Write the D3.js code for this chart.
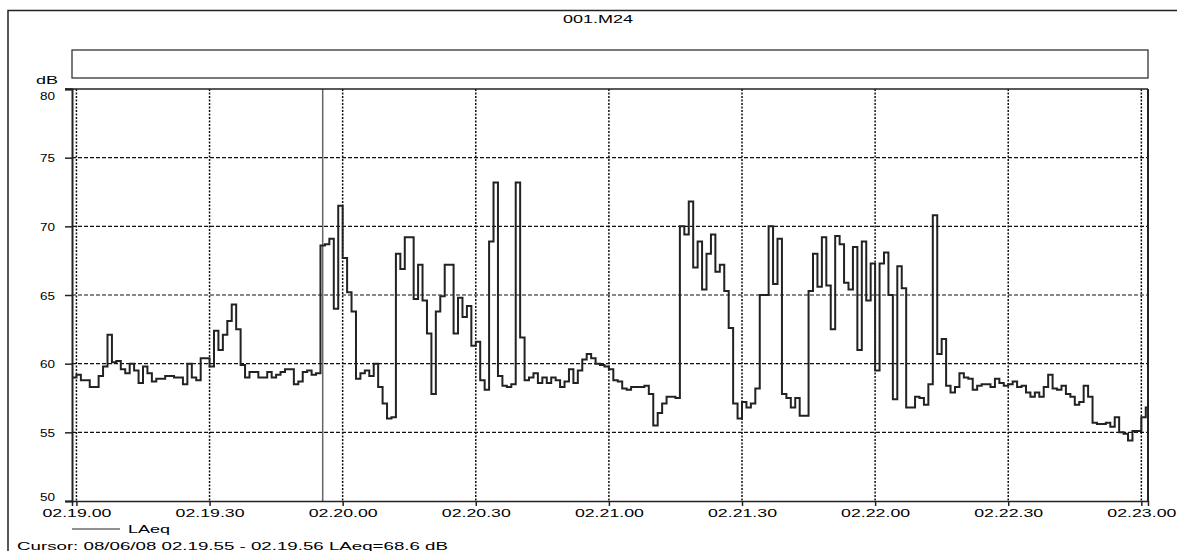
<!DOCTYPE html>
<html>
<head>
<meta charset="utf-8">
<script src="https://cdn.jsdelivr.net/npm/d3@7"></script>
<style>
  body { margin: 0; background: #fff; }
  text { font-family: "Liberation Sans", Arial, sans-serif; fill: #000; }
</style>
</head>
<body>
<svg id="chart" width="1177" height="551"></svg>
<script>
// LAeq, 1 s values starting at 02.18.59
var startTime = new Date(2008, 5, 8, 2, 18, 59);
var endTime = new Date(2008, 5, 8, 2, 23, 1, 500);
var laeq = [
  59.0,
  59.2, 58.8, 58.8, 58.3, 58.3, 59.1, 59.8, 62.1, 60.1, 60.2,
  59.6, 59.3, 60.0, 59.5, 58.6, 59.8, 59.3, 58.7, 58.9, 58.9,
  59.1, 59.1, 59.0, 59.0, 58.5, 60.0, 59.0, 58.8, 60.4, 60.4,
  59.8, 62.4, 61.0, 62.1, 63.1, 64.3, 62.5, 59.9, 59.0, 59.4,
  59.4, 59.0, 59.0, 59.4, 59.0, 59.2, 59.4, 59.6, 59.6, 58.5,
  58.7, 59.4, 59.5, 59.2, 59.3, 68.6, 68.7, 69.1, 64.0, 71.5,
  67.7, 65.2, 63.8, 58.9, 59.3, 59.5, 59.1, 60.0, 58.3, 57.1,
  56.0, 56.1, 68.0, 66.9, 69.2, 69.2, 64.7, 67.2, 64.6, 62.2,
  57.8, 63.8, 64.9, 67.2, 67.2, 62.2, 64.8, 63.4, 64.2, 61.3,
  61.6, 58.8, 58.1, 68.9, 73.2, 59.1, 58.4, 58.3, 58.5, 73.2,
  61.9, 58.8, 59.0, 59.3, 58.6, 59.0, 58.6, 59.0, 58.8, 58.3,
  58.7, 59.6, 58.6, 59.5, 60.3, 60.7, 60.4, 60.0, 59.9, 59.8,
  59.6, 58.8, 58.7, 58.2, 58.1, 58.3, 58.3, 58.3, 58.4, 57.8,
  55.5, 56.4, 57.1, 57.6, 57.6, 57.5, 70.0, 69.4, 71.8, 67.0,
  68.9, 65.4, 68.0, 69.4, 66.7, 67.2, 65.3, 62.6, 57.1, 56.0,
  57.2, 56.8, 57.1, 58.2, 65.0, 65.0, 70.0, 65.8, 69.1, 57.8,
  57.5, 56.8, 57.5, 56.2, 56.2, 65.3, 68.0, 65.6, 69.2, 65.7,
  62.5, 69.3, 68.7, 65.9, 65.4, 68.5, 61.0, 68.9, 64.6, 67.3,
  59.5, 67.3, 68.1, 65.0, 57.4, 67.1, 65.5, 56.8, 56.8, 57.6,
  57.5, 57.0, 58.5, 70.8, 60.7, 61.8, 58.4, 57.9, 58.3, 59.3,
  59.0, 58.9, 58.1, 58.4, 58.5, 58.5, 58.3, 58.9, 58.6, 58.4,
  58.5, 58.7, 58.3, 58.4, 57.9, 57.6, 57.9, 57.6, 58.3, 59.2,
  58.2, 58.1, 58.4, 57.8, 57.6, 57.0, 57.2, 58.4, 57.6, 55.7,
  55.6, 55.6, 55.7, 55.4, 56.1, 55.0, 54.9, 54.4, 55.1, 55.1,
  56.1, 56.8
];
var yTicks = [50, 55, 60, 65, 70, 75, 80];
var cursorFrom = new Date(2008, 5, 8, 2, 19, 55);
var cursorTo = new Date(2008, 5, 8, 2, 19, 56);
var cursorText = "Cursor: 08/06/08 02.19.55 - 02.19.56  LAeq=68.6 dB";
var title = "001.M24";

var plotLeft = 72, plotRight = 1148, plotTop = 89, plotBottom = 501;

var svg = d3.select("#chart");

var x = d3.scaleTime().domain([startTime, endTime]).range([plotLeft, plotRight]);
var y = d3.scaleLinear().domain([50, 80]).range([plotBottom, plotTop]);
var fmt = d3.timeFormat("%H.%M.%S");

var data = laeq.map(function (v, i) {
  return { t: d3.timeSecond.offset(startTime, i), v: v };
});
data.push({ t: d3.timeSecond.offset(startTime, laeq.length), v: laeq[laeq.length - 1] });

// outer window frame
svg.append("path").attr("d", "M8,551V10.5H1177")
  .attr("fill", "none").attr("stroke", "#222").attr("stroke-width", 1.5);

svg.append("text").attr("x", 598).attr("y", 23).attr("text-anchor", "middle")
  .attr("font-size", 11.5).attr("textLength", 70).attr("lengthAdjust", "spacingAndGlyphs")
  .text(title);

// empty legend box
svg.append("rect").attr("x", 72).attr("y", 50).attr("width", 1076).attr("height", 28)
  .attr("fill", "none").attr("stroke", "#333").attr("stroke-width", 1.3);

svg.append("text").attr("x", 36).attr("y", 84).attr("font-size", 11.5)
  .attr("textLength", 22).attr("lengthAdjust", "spacingAndGlyphs").text("dB");

// grid
var xTicks = x.ticks(d3.timeSecond.every(30));
svg.append("g").selectAll("line").data(yTicks.slice(1, -1)).join("line")
  .attr("x1", plotLeft).attr("x2", plotRight)
  .attr("y1", function (d) { return y(d); }).attr("y2", function (d) { return y(d); })
  .attr("stroke", "#111").attr("stroke-width", 1.2).attr("stroke-dasharray", "4,2");
svg.append("g").selectAll("line").data(xTicks).join("line")
  .attr("x1", function (d) { return x(d); }).attr("x2", function (d) { return x(d); })
  .attr("y1", plotTop).attr("y2", plotBottom)
  .attr("stroke", "#111").attr("stroke-width", 1.5).attr("stroke-dasharray", "2,1.5");

// cursor
var cx = (x(cursorFrom) + x(cursorTo)) / 2;
svg.append("line").attr("x1", cx).attr("x2", cx).attr("y1", plotTop).attr("y2", plotBottom)
  .attr("stroke", "#666").attr("stroke-width", 1.5);

// data line
svg.append("clipPath").attr("id", "clip").append("rect")
  .attr("x", plotLeft).attr("y", plotTop)
  .attr("width", plotRight - plotLeft).attr("height", plotBottom - plotTop);

var line = d3.line()
  .x(function (d) { return x(d.t); })
  .y(function (d) { return y(d.v); })
  .curve(d3.curveStepAfter);

svg.append("path").datum(data).attr("clip-path", "url(#clip)")
  .attr("fill", "none").attr("stroke", "#222").attr("stroke-width", 2)
  .attr("d", line);

// plot frame
svg.append("line").attr("x1", 65).attr("x2", plotRight).attr("y1", plotTop).attr("y2", plotTop)
  .attr("stroke", "#222").attr("stroke-width", 1.5);
svg.append("line").attr("x1", plotRight).attr("x2", plotRight).attr("y1", plotTop).attr("y2", plotBottom)
  .attr("stroke", "#222").attr("stroke-width", 2);

// axes
var yAxis = d3.axisLeft(y).tickValues(yTicks).tickSize(7).tickFormat(d3.format("d"));
var gy = svg.append("g").attr("transform", "translate(" + plotLeft + ",0)").call(yAxis);
gy.select(".domain").attr("stroke", "#222").attr("stroke-width", 2);
gy.selectAll(".tick line").attr("stroke", "#222").attr("stroke-width", 1.5);
gy.selectAll(".tick text")
  .attr("x", -17).attr("font-size", 11.5).attr("fill", "#000")
  .attr("font-family", "Liberation Sans, Arial, sans-serif")
  .attr("textLength", 15).attr("lengthAdjust", "spacingAndGlyphs")
  .attr("dy", function (d) { return d === 80 ? "0.95em" : d === 50 ? "-0.05em" : "0.35em"; });

var xAxis = d3.axisBottom(x).tickValues(xTicks).tickSize(5).tickFormat(fmt);
var gx = svg.append("g").attr("transform", "translate(0," + plotBottom + ")").call(xAxis);
gx.select(".domain").attr("stroke", "#222").attr("stroke-width", 1.5);
gx.selectAll(".tick line").attr("stroke", "#222").attr("stroke-width", 1.5);
gx.selectAll(".tick text")
  .attr("y", 16).attr("dy", 0).attr("font-size", 11.5).attr("fill", "#000")
  .attr("font-family", "Liberation Sans, Arial, sans-serif")
  .attr("textLength", 69).attr("lengthAdjust", "spacingAndGlyphs");

// legend + cursor readout
svg.append("line").attr("x1", 72).attr("x2", 120).attr("y1", 529).attr("y2", 529)
  .attr("stroke", "#222").attr("stroke-width", 1.2);
svg.append("text").attr("x", 128).attr("y", 533).attr("font-size", 11.5)
  .attr("textLength", 42).attr("lengthAdjust", "spacingAndGlyphs").text("LAeq");
svg.append("text").attr("x", 17).attr("y", 550).attr("font-size", 11.5)
  .attr("textLength", 431).attr("lengthAdjust", "spacingAndGlyphs").text(cursorText);
</script>
</body>
</html>
